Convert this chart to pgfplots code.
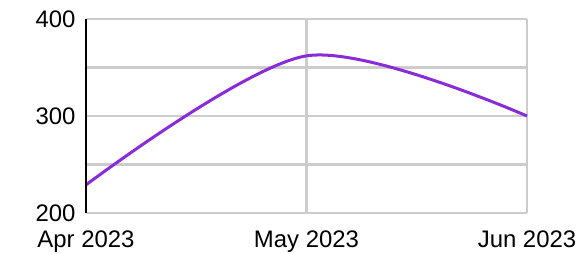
\documentclass[border=0pt]{standalone}
\usepackage{fontspec}
\setmainfont{Liberation Sans}
\usepackage{pgfplots}
\pgfplotsset{compat=1.18}
\definecolor{gridc}{HTML}{CCCCCC}
\definecolor{linec}{HTML}{8A2BD8}
\begin{document}
\begin{tikzpicture}
\path[use as bounding box] (-86bp,-41bp) rectangle (494bp,213bp);
\begin{axis}[
  at={(0,0)}, anchor=south west,
  scale only axis, width=441bp, height=194bp,
  xmin=0, xmax=2, ymin=200, ymax=400,
  xtick={0,1,2}, xticklabels={Apr 2023,May 2023,Jun 2023},
  ytick={200,250,300,350,400}, yticklabels={200,,300,,400},
  major tick length=0pt,
  grid=major, major grid style={gridc, line width=2.2bp},
  axis line style={draw=none},
  ticklabel style={font=\fontsize{24}{28}\selectfont},
  /pgf/number format/assume math mode=true,
  xticklabel style={yshift=-14bp},
  yticklabel style={xshift=-7bp},
  clip=false,
]
\addplot[linec, line width=3bp, smooth] coordinates {(0,229) (1,362) (2,300)};
\draw[black, line width=2bp] (axis cs:0,200) -- (axis cs:0,400);
\end{axis}
\end{tikzpicture}
\end{document}
